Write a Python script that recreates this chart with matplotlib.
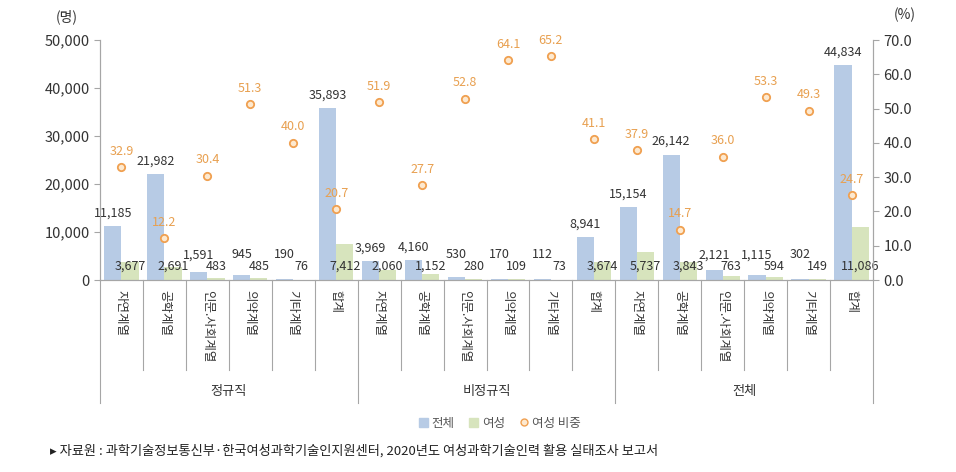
import numpy as np
import matplotlib
matplotlib.use("Agg")
import matplotlib.pyplot as plt
from matplotlib.patches import Patch
from matplotlib.lines import Line2D
from matplotlib.ticker import FuncFormatter, FormatStrFormatter
import matplotlib.transforms as mtransforms

plt.rcParams['font.family'] = ['Noto Sans CJK KR', 'DejaVu Sans']

groups = ['정규직', '비정규직', '전체']
fields = ['자연계열', '공학계열', '인문.사회계열', '의약계열', '기타계열', '합계']

total = [11185, 21982, 1591, 945, 190, 35893,
         3969, 4160, 530, 170, 112, 8941,
         15154, 26142, 2121, 1115, 302, 44834]
female = [3677, 2691, 483, 485, 76, 7412,
          2060, 1152, 280, 109, 73, 3674,
          5737, 3843, 763, 594, 149, 11086]
ratio = [32.9, 12.2, 30.4, 51.3, 40.0, 20.7,
         51.9, 27.7, 52.8, 64.1, 65.2, 41.1,
         37.9, 14.7, 36.0, 53.3, 49.3, 24.7]

c_total = '#B7CBE5'
c_female = '#D7E4BD'
c_dot = '#F0A050'
c_text = '#333333'
c_line = '#A6A6A6'

n = len(total)
x = np.arange(n)
w = 0.4
ymax = 50000
ax_h = 240  # axes height in pixels

fig = plt.figure(figsize=(9.56, 4.72), dpi=100)
ax = fig.add_axes([100/956, 1-280/472, 773/956, ax_h/472])
ax2 = ax.twinx()

ax.bar(x - w/2, total, w, color=c_total, zorder=2)
ax.bar(x + w/2, female, w, color=c_female, zorder=2)
ax.set_xlim(-0.5, n - 0.5)
ax.set_ylim(0, ymax)
ax.set_yticks(np.arange(0, ymax + 1, 10000))
ax.yaxis.set_major_formatter(FuncFormatter(lambda v, p: f'{int(v):,}'))
ax.set_xticks([])

ax2.scatter(x, ratio, s=28, facecolor='#FDE9D0', edgecolor=c_dot, linewidth=1.3, zorder=4)
ax2.set_ylim(0, 70)
ax2.set_yticks(np.arange(0, 71, 10))
ax2.yaxis.set_major_formatter(FormatStrFormatter('%.1f'))

for a in (ax, ax2):
    a.spines['top'].set_visible(False)
    for s in ('left', 'right', 'bottom'):
        a.spines[s].set_color(c_line)
    a.tick_params(axis='y', colors=c_line, labelcolor=c_text, labelsize=10.5, length=4)
ax.set_zorder(ax2.get_zorder() - 1)
ax.patch.set_visible(False)

# data labels (small bars get their label lifted a bit, as in the original)
for i in range(n):
    top_px = total[i] / ymax * ax_h
    centre_px = max(top_px + 13, 25)
    ax.annotate(f'{total[i]:,}', (x[i] - w/2, 0), xytext=(0, centre_px * 0.72),
                textcoords='offset points', ha='center', va='center',
                fontsize=9, color=c_text)
    ax.annotate(f'{female[i]:,}', (x[i] + w/2, 0), xytext=(0, 10),
                textcoords='offset points', ha='center', va='center',
                fontsize=9, color=c_text, zorder=5)
    ax2.annotate(f'{ratio[i]:.1f}', (x[i], ratio[i]), xytext=(0, 11.5),
                 textcoords='offset points', ha='center', va='center',
                 fontsize=9, color='#E8A050')

# category axis: separators and labels
trans = mtransforms.blended_transform_factory(ax.transData, ax.transAxes)
for k in range(n + 1):
    depth = -123/ax_h if k % 6 == 0 else -90/ax_h
    ax.plot([k - 0.5, k - 0.5], [0, depth], color=c_line, lw=0.8,
            transform=trans, clip_on=False)
for i in range(n):
    ax.text(x[i], -10/ax_h, fields[i % 6], transform=trans, rotation=-90,
            ha='center', va='top', fontsize=9, color=c_text)
for g, name in enumerate(groups):
    ax.text(g*6 + 2.5, -111/ax_h, name, transform=trans, ha='center',
            va='center', fontsize=9.5, color=c_text)

fig.text(67/956, 1-17/472, '(명)', ha='center', va='center', fontsize=10, color=c_text)
fig.text(905/956, 1-15/472, '(%)', ha='center', va='center', fontsize=10, color=c_text)

handles = [Patch(color=c_total), Patch(color=c_female),
           Line2D([], [], marker='o', ls='', markerfacecolor='#FDE9D0',
                  markeredgecolor=c_dot, markersize=5)]
fig.legend(handles, ['전체', '여성', '여성 비중'], loc='center',
           bbox_to_anchor=(500/956, 1-423/472), ncol=3, frameon=False,
           fontsize=9, handlelength=0.7, handleheight=0.7, handletextpad=0.3,
           columnspacing=1.2, labelcolor='#555555')

fig.text(50/956, 1-451/472,
         '▸ 자료원 : 과학기술정보통신부·한국여성과학기술인지원센터, 2020년도 여성과학기술인력 활용 실태조사 보고서',
         ha='left', va='center', fontsize=9.5, fontweight='medium', color='#222222')

fig.savefig('out.png', dpi=100)
